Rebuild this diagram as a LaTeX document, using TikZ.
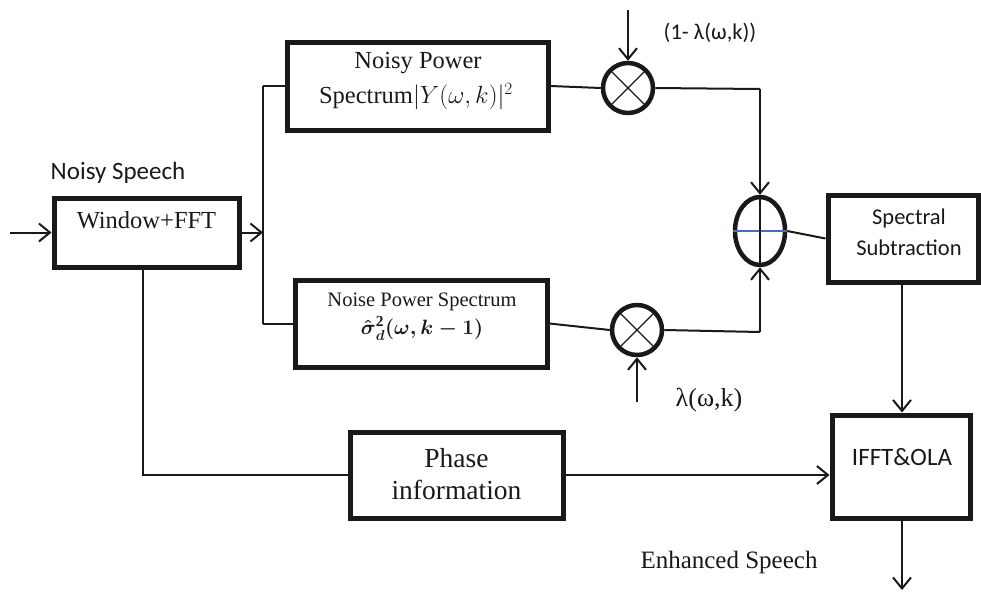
\documentclass[tikz,border=0pt]{standalone}
\usepackage{fontspec}
\usepackage{amsmath}
\usepackage{amssymb}
\setmainfont{Liberation Serif}
\newfontfamily\calib{Carlito}
\usetikzlibrary{arrows.meta,shapes.geometric}
\definecolor{ink}{RGB}{25,25,25}
\definecolor{midline}{RGB}{70,110,180}
\newcommand{\noisespec}{$\boldsymbol{\hat{\sigma}}^{\mathbf{2}}_{\boldsymbol{d}}\boldsymbol{(\omega,k-1)}$}
\tikzset{
  blockbox/.style={draw=ink,line width=5pt,minimum width=#1,inner sep=0pt},
  wire/.style={draw=ink,line width=2pt},
  arr/.style={wire,-{Straight Barb[length=11pt,width=18pt,line width=2pt]}},
  mult/.style={draw=ink,circle,line width=4.5pt,minimum size=50pt,inner sep=0pt,
    path picture={
      \draw[ink,line width=1.3pt] (path picture bounding box.south west) -- (path picture bounding box.north east)
        (path picture bounding box.north west) -- (path picture bounding box.south east);}},
  serif/.style={font=\fontsize{#1}{#1}\selectfont,text=ink,inner sep=0pt},
  sans/.style={font=\calib\fontsize{#1}{#1}\selectfont,text=ink,inner sep=0pt},
}
\begin{document}
\begin{tikzpicture}[x=1pt,y=-1pt]
\useasboundingbox (0,0) rectangle (981,595);

% processing blocks
\node[blockbox=185pt,minimum height=69pt] (win) at (146.5,232.5) {};
\node[blockbox=261pt,minimum height=88pt] (nps) at (417.5,86) {};
\node[blockbox=252pt,minimum height=87pt] (nns) at (421,323.5) {};
\node[blockbox=213pt,minimum height=86pt] (ph)  at (456.5,475) {};
\node[blockbox=150pt,minimum height=87pt] (ss)  at (903,238.5) {};
\node[blockbox=138pt,minimum height=103pt] (iff) at (901,466.5) {};

% block texts
\node[serif=24.5] at (146.5,220) {Window+FFT};
\node[serif=24.5] at (418,63) {Noisy Power};
\node[serif=24.5] at (416,97) {Spectrum{\fontsize{26}{26}\selectfont$|Y(\omega,k)|^2$}};
\node[serif=20.5] at (422,302) {Noise Power Spectrum};
\node[serif=22] at (422,328) {\noisespec};
\node[serif=27.5] at (456.5,458) {Phase};
\node[serif=27.5] at (456.5,490) {information};
\node[sans=22.5] at (909,218) {Spectral};
\node[sans=22.5] at (909,248) {Subtraction};
\node[sans=25] at (902,457) {IFFT\&OLA};

% multipliers and summing junction
\node[mult] (m1) at (628,88) {};
\node[mult] (m2) at (637,330) {};
\node[draw=ink,ellipse,line width=4.5pt,minimum width=50pt,minimum height=68pt,inner sep=0pt] (sum) at (760,231) {};
\draw[midline,line width=1.3pt] (sum.west) -- (sum.east);
\draw[wire] (sum.north) -- (sum.south);

% free ends of connectors
\coordinate (in)    at (10,232.5);
\coordinate (split) at (263,232.5);
\coordinate (ntop)  at (263,86);
\coordinate (nbot)  at (263,323.5);
\coordinate (gtop)  at (628,10);
\coordinate (gbot)  at (637,402);
\coordinate (c1)    at (760,89);
\coordinate (c2)    at (760,332);
\coordinate (out)   at (902,590);
\coordinate (pk)    at (143,475);

% connectors
\draw[arr] (in) -- (win.west);
\draw[arr] (win.east) -- (split);
\draw[wire] (ntop) -- (nbot);
\draw[wire] (ntop) -- (nps.west);
\draw[wire] (nbot) -- (nns.west);
\draw[wire] (nps.east) -- (m1.west);
\draw[arr] (gtop) -- (m1.north);
\draw[wire] (m1.east) -- (c1);
\draw[arr] (c1) -- (sum.north);
\draw[wire] (nns.east) -- (m2.west);
\draw[arr] (gbot) -- (m2.south);
\draw[wire] (m2.east) -- (c2);
\draw[arr] (c2) -- (sum.south);
\draw[wire] (sum.east) -- (ss.west);
\draw[arr] (ss.south -| out) -- (iff.north -| out);
\draw[arr] (iff.south -| out) -- (out);
\draw[wire] (win.south -| pk) -- (pk) -- (ph.west);
\draw[arr] (ph.east) -- (ph.east -| iff.west);

% signal labels
\node[sans=25] at (118,173) {Noisy Speech};
\node[sans=22.5] at (710,33) {(1- λ(ω,k))};
\node[serif=26] at (709,400) {λ(ω,k)};
\node[serif=25] at (729,562) {Enhanced Speech};
\end{tikzpicture}
\end{document}
